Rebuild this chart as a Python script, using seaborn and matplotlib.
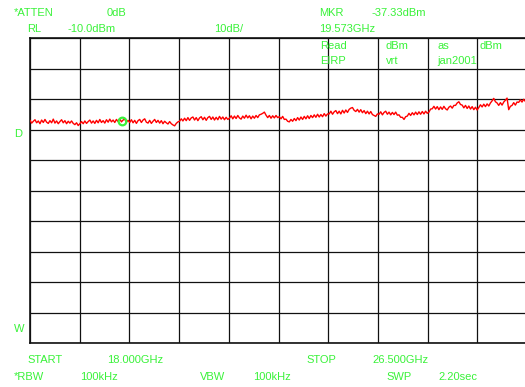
import numpy as np
import pandas as pd
import matplotlib
matplotlib.use("Agg")
import matplotlib.pyplot as plt
import seaborn as sns

# Sweep settings
start_ghz = 18.0
stop_ghz = 26.5
ref_level_dbm = -10.0
db_per_div = 10.0
marker_ghz = 19.573
marker_dbm = -37.33

# Measured trace level (dBm), 30 sweep points per horizontal division
trace_dbm = [
    -37.0, -37.9, -37.3, -36.8, -37.8, -37.2, -38.1, -36.9, -37.7, -36.7,
    -37.6, -38.0, -37.1, -37.8, -36.6, -37.9, -37.2, -38.1, -37.4, -36.8,
    -37.8, -37.1, -38.1, -37.3, -37.9, -37.2, -38.0, -38.4, -37.8, -38.7,
    -38.1, -37.4, -38.1, -37.2, -38.0, -37.4, -36.9, -37.9, -37.2, -38.0,
    -37.0, -37.8, -36.7, -37.7, -37.1, -37.9, -36.8, -37.6, -36.6, -37.5,
    -36.9, -37.7, -36.7, -37.4, -36.5, -37.5, -36.9, -36.6, -37.6, -37.0,
    -37.7, -36.8, -37.8, -37.0, -38.0, -37.1, -36.7, -37.7, -36.9, -36.5,
    -37.6, -37.9, -37.0, -38.0, -37.3, -36.7, -37.7, -37.0, -37.9, -37.1,
    -38.1, -37.3, -37.8, -38.2, -37.4, -38.1, -38.5, -38.8, -38.0, -37.5,
    -37.3, -36.5, -37.2, -36.3, -37.1, -36.1, -37.0, -36.2, -35.9, -36.9,
    -36.1, -37.1, -36.2, -35.8, -36.8, -36.0, -37.0, -36.1, -35.7, -36.7,
    -35.9, -36.9, -36.0, -36.8, -35.7, -36.6, -35.9, -36.8, -36.0, -36.7,
    -36.3, -35.5, -36.5, -35.6, -36.4, -35.4, -36.2, -36.6, -35.6, -36.3,
    -35.3, -36.2, -35.5, -36.5, -35.6, -36.3, -35.4, -36.1, -35.2, -35.0,
    -34.7, -34.3, -35.3, -36.1, -35.4, -36.3, -35.5, -36.2, -35.4, -36.1,
    -35.8, -36.5, -35.7, -36.7, -36.6, -37.3, -37.5, -36.7, -37.3, -36.4,
    -37.1, -36.1, -36.9, -35.9, -36.7, -35.7, -36.5, -35.5, -36.4, -35.4,
    -36.1, -35.2, -36.0, -35.0, -35.9, -35.1, -35.8, -34.8, -35.6, -34.9,
    -34.9, -34.0, -35.0, -34.2, -33.8, -34.8, -34.0, -34.9, -33.7, -34.6,
    -33.6, -34.4, -33.4, -33.0, -32.8, -33.7, -34.1, -33.4, -34.3, -33.5,
    -34.5, -33.8, -34.8, -34.0, -34.9, -34.1, -35.1, -35.4, -35.7, -34.9,
    -35.0, -34.2, -35.2, -34.4, -34.0, -35.0, -34.3, -35.2, -34.4, -35.1,
    -34.3, -35.3, -35.2, -36.0, -36.0, -36.7, -35.8, -35.6, -34.7, -35.4,
    -34.5, -35.2, -34.3, -35.1, -34.2, -35.0, -34.1, -34.9, -34.0, -34.7,
    -34.3, -33.3, -33.2, -32.4, -33.3, -32.5, -33.5, -32.6, -33.4, -32.4,
    -33.2, -33.6, -32.7, -32.3, -33.0, -32.1, -32.1, -31.3, -30.9, -31.8,
    -32.0, -32.9, -32.1, -33.1, -32.3, -33.3, -32.5, -33.5, -32.7, -33.6,
    -32.8, -31.9, -32.6, -31.7, -32.5, -31.6, -32.3, -31.3, -30.6, -29.8,
    -30.9, -31.3, -32.1, -31.2, -32.0, -31.0, -30.4, -29.7, -33.5, -32.4,
    -32.1, -31.2, -32.0, -31.0, -31.1, -30.3, -31.0, -30.1, -30.8, -30.3,
]
freq_ghz = np.linspace(start_ghz, stop_ghz, len(trace_dbm))

W, H = 525, 387
GREEN = "#39f239"

sns.set_style("white")
plt.rcParams["font.family"] = ["Liberation Sans", "DejaVu Sans"]

fig = plt.figure(figsize=(W / 100, H / 100), dpi=100)
fig.patch.set_facecolor("white")

# Graticule area in pixel coordinates (extends just past the right edge)
left_px, right_px, top_px, bottom_px = 30, 527, 38, 343
ax = fig.add_axes([left_px / W, 1 - bottom_px / H,
                   (right_px - left_px) / W, (bottom_px - top_px) / H])
ax.set_facecolor("white")

n_div = 10
ax.set_xlim(start_ghz, stop_ghz)
ax.set_ylim(ref_level_dbm - n_div * db_per_div, ref_level_dbm)
ax.set_xticks(np.linspace(start_ghz, stop_ghz, n_div + 1))
ax.set_yticks(np.arange(ref_level_dbm - n_div * db_per_div, ref_level_dbm + 1, db_per_div))
ax.grid(True, color="#111111", linewidth=0.9)
ax.tick_params(left=False, bottom=False, labelleft=False, labelbottom=False)
for s in ax.spines.values():
    s.set_color("#111111")
    s.set_linewidth(1.2)

df = pd.DataFrame({"freq": freq_ghz, "level": trace_dbm})
sns.lineplot(data=df, x="freq", y="level", ax=ax, color="#ff0000",
             linewidth=1.0, zorder=3)
ax.set_xlabel("")
ax.set_ylabel("")

# Marker
ax.plot([marker_ghz], [marker_dbm], marker="o", markersize=5.5,
        markerfacecolor="none", markeredgecolor=GREEN, markeredgewidth=1.6,
        zorder=4, linestyle="none")


def label(x, y, s):
    fig.text(x / W, 1 - y / H, s, color=GREEN, fontsize=8,
             ha="left", va="center")


# Header
label(14, 12.5, "*ATTEN")
label(107, 12.5, "0dB")
label(319, 12.5, "MKR")
label(372, 12.5, "-37.33dBm")
label(27, 29, "RL")
label(67, 29, "-10.0dBm")
label(214, 29, "10dB/")
label(319, 29, "19.573GHz")

# Annotations inside the graticule
label(320, 46, "Read")
label(386, 46, "dBm")
label(437, 46, "as")
label(479, 46, "dBm")
label(320, 61.5, "EIRP")
label(386, 61.5, "vrt")
label(437, 61.5, "jan2001")

# Side labels
label(14, 134, "D")
label(14, 329, "W")

# Footer
label(27, 360, "START")
label(107, 360, "18.000GHz")
label(306, 360, "STOP")
label(372, 360, "26.500GHz")
label(14, 377, "*RBW")
label(80, 377, "100kHz")
label(200, 377, "VBW")
label(253, 377, "100kHz")
label(386, 377, "SWP")
label(438, 377, "2.20sec")

fig.savefig("out.png", dpi=100, facecolor="white")
